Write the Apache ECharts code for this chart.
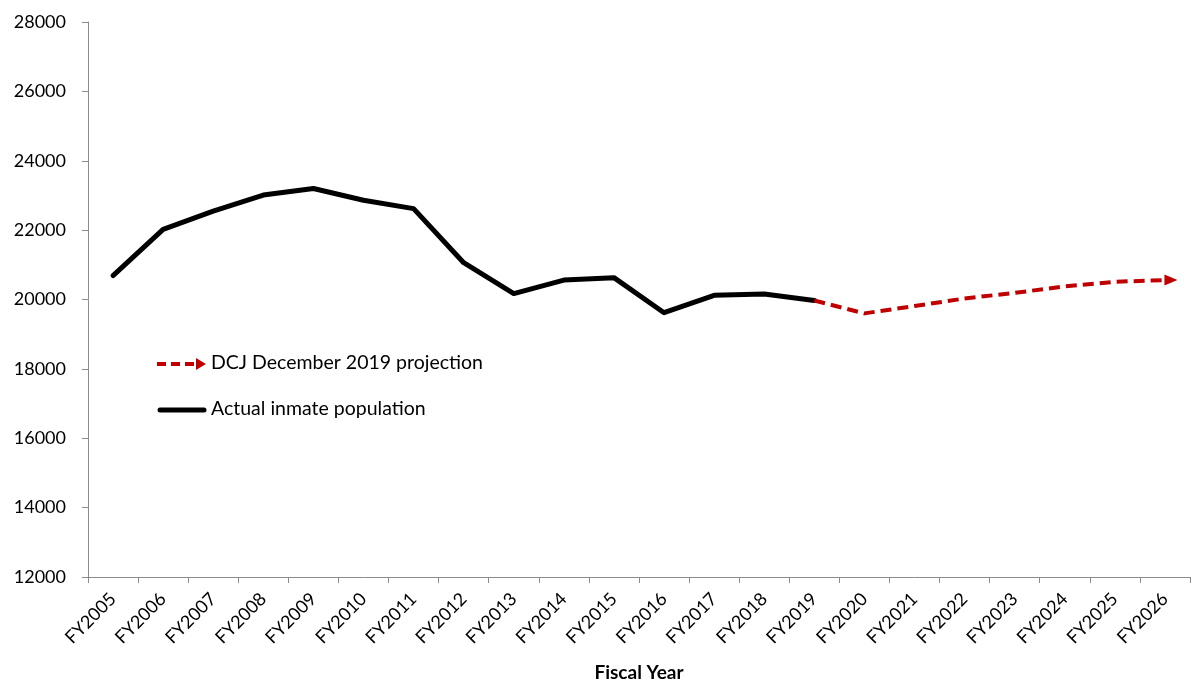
<!DOCTYPE html>
<html>
<head>
<meta charset="utf-8">
<script src="https://cdn.jsdelivr.net/npm/echarts@6/dist/echarts.min.js"></script>
<style>
  html, body { margin: 0; padding: 0; background: #fff; }
  #chart { width: 1193px; height: 682px; }
</style>
</head>
<body>
<div id="chart"></div>
<script>
// Fiscal years on the category axis
const fiscalYears = ['FY2005','FY2006','FY2007','FY2008','FY2009','FY2010','FY2011','FY2012',
  'FY2013','FY2014','FY2015','FY2016','FY2017','FY2018','FY2019','FY2020','FY2021','FY2022',
  'FY2023','FY2024','FY2025','FY2026'];

// Actual inmate population, FY2005–FY2019
const actualPopulation = [20690, 22020, 22550, 23010, 23200, 22860, 22620, 21060,
  20170, 20560, 20630, 19620, 20120, 20160, 19970];

// DCJ December 2019 projection, FY2019–FY2026
const projectionStart = 'FY2019';
const projection = [19970, 19600, 19810, 20030, 20190, 20380, 20510, 20560];

const yTicks = { min: 12000, max: 28000, step: 2000 };

const seriesNames = ['DCJ December 2019 projection', 'Actual inmate population'];

const FONT = 'Lato, "Open Sans", sans-serif';
const AXIS_GREY = '#8c8c8c';
const RED = '#c00000';

// Align series values with the category axis
const actualData = fiscalYears.map((_, i) => i < actualPopulation.length ? actualPopulation[i] : null);
const startIdx = fiscalYears.indexOf(projectionStart);
const projData = fiscalYears.map((_, i) => {
  const k = i - startIdx;
  if (k < 0 || k >= projection.length) return null;
  if (k === projection.length - 1) {
    // arrowhead on the final projected year
    return { value: projection[k], symbol: 'triangle', symbolSize: [11, 13],
             symbolRotate: -90, symbolOffset: [6, 0], itemStyle: { color: RED } };
  }
  return projection[k];
});

const chart = echarts.init(document.getElementById('chart'), null, { renderer: 'canvas' });

chart.setOption({
  animation: false,
  backgroundColor: '#fff',
  grid: { left: 88, right: 3, top: 22, bottom: 105, containLabel: false, outerBoundsMode: 'none' },
  xAxis: {
    type: 'category',
    data: fiscalYears,
    boundaryGap: true,
    name: 'Fiscal Year',
    nameLocation: 'middle',
    nameGap: 86,
    nameMoveOverlap: false,
    nameTextStyle: { fontFamily: FONT, fontSize: 19, fontWeight: 'bold', color: '#000' },
    axisLine: { lineStyle: { color: AXIS_GREY, width: 1 } },
    axisTick: { show: true, length: 6, alignWithLabel: false, lineStyle: { color: AXIS_GREY } },
    axisLabel: { rotate: 45, margin: 19, fontFamily: FONT, fontSize: 18, color: '#000', interval: 0 },
    splitLine: { show: false }
  },
  yAxis: {
    type: 'value',
    min: yTicks.min,
    max: yTicks.max,
    interval: yTicks.step,
    axisLine: { show: true, lineStyle: { color: AXIS_GREY, width: 1 } },
    axisTick: { show: true, length: 6, lineStyle: { color: AXIS_GREY } },
    axisLabel: { margin: 22, fontFamily: FONT, fontSize: 18, color: '#000',
                 formatter: v => String(v) },
    splitLine: { show: false }
  },
  series: [
    {
      name: seriesNames[1],
      type: 'line',
      data: actualData,
      symbol: 'none',
      connectNulls: false,
      lineStyle: { color: '#000', width: 5, cap: 'round', join: 'round' },
      z: 2
    },
    {
      name: seriesNames[0],
      type: 'line',
      data: projData,
      symbol: 'none',
      showSymbol: true,
      lineStyle: { color: RED, width: 4, type: [11, 6], cap: 'butt', join: 'round' },
      itemStyle: { color: RED },
      z: 3
    }
  ],
  graphic: [
    // legend: projection entry
    { type: 'line', shape: { x1: 157, y1: 364, x2: 199, y2: 364 },
      style: { stroke: RED, lineWidth: 4, lineDash: [9, 5] } },
    { type: 'polygon', shape: { points: [[196, 358], [206, 364], [196, 370]] },
      style: { fill: RED } },
    { type: 'text', left: 211, top: 353,
      style: { text: seriesNames[0], font: '19.5px ' + FONT, fill: '#000' } },
    // legend: actual entry
    { type: 'line', shape: { x1: 160, y1: 410, x2: 204, y2: 410 },
      style: { stroke: '#000', lineWidth: 5, lineCap: 'round' } },
    { type: 'text', left: 211, top: 399,
      style: { text: seriesNames[1], font: '19.5px ' + FONT, fill: '#000' } }
  ]
});
</script>
</body>
</html>
